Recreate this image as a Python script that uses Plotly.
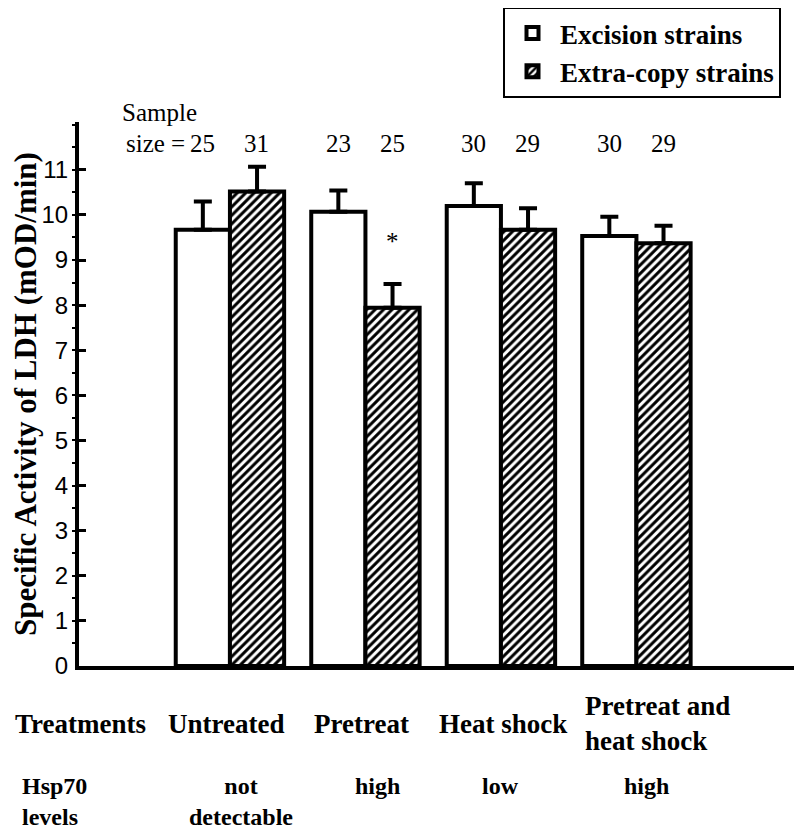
import plotly.graph_objects as go

categories = ["Untreated", "Pretreat", "Heat shock", "Pretreat and heat shock"]
excision = [9.67, 10.07, 10.20, 9.53]
excision_err = [0.63, 0.47, 0.50, 0.43]
extra = [10.52, 7.94, 9.67, 9.37]
extra_err = [0.55, 0.53, 0.48, 0.39]
n_excision = [25, 23, 30, 30]
n_extra = [31, 25, 29, 29]
hsp70 = ["not<br>detectable", "high", "low", "high"]
yticks = list(range(0, 12))

SERIF = "Liberation Serif"
SANS = "Liberation Sans"

fig = go.Figure()
fig.add_trace(go.Bar(
    name="Excision strains", x=categories, y=excision,
    marker=dict(color="white", line=dict(color="black", width=4)),
    error_y=dict(type="data", array=excision_err, arrayminus=[0]*4, symmetric=False,
                 color="black", thickness=4, width=9),
))
fig.add_trace(go.Bar(
    name="Extra-copy strains", x=categories, y=extra,
    marker=dict(color="white", line=dict(color="black", width=4),
                pattern=dict(shape="/", fgcolor="black", bgcolor="white", size=6,
                             solidity=0.5, fgopacity=1)),
    error_y=dict(type="data", array=extra_err, arrayminus=[0]*4, symmetric=False,
                 color="black", thickness=4, width=9),
))

# paper coords: plot spans 723 px wide (left edge at page x=79) and 544 px tall (bottom at page y=666)
def px(x):
    return (x - 79) / 723

def py(y):
    return (666 - y) / 544

reg = dict(family=SERIF, size=25, color="black")
ann = []
for i, c in enumerate(categories):
    ann.append(dict(x=c, xshift=-27, y=py(143), yref="paper", yanchor="middle",
                    text=str(n_excision[i]), showarrow=False, font=reg))
    ann.append(dict(x=c, xshift=27, y=py(143), yref="paper", yanchor="middle",
                    text=str(n_extra[i]), showarrow=False, font=reg))
ann.append(dict(x=px(120), xref="paper", xanchor="left", y=py(113), yref="paper",
                yanchor="middle", text="Sample", showarrow=False, font=reg))
ann.append(dict(x=px(187), xref="paper", xanchor="right", y=py(143), yref="paper",
                yanchor="middle", text="size =", showarrow=False, font=reg))
ann.append(dict(x=categories[1], xshift=27, y=9.4, text="*", showarrow=False, font=reg))

bold = dict(family=SERIF, size=27, color="black", weight="bold")
bold2 = dict(family=SERIF, size=24, color="black", weight="bold")
ann.append(dict(x=px(13), xref="paper", xanchor="left", y=py(724), yref="paper",
                yanchor="middle", text="Treatments", showarrow=False, font=bold))
ann.append(dict(x=categories[0], xshift=-4, y=py(724), yref="paper", yanchor="middle",
                text="Untreated", showarrow=False, font=bold))
ann.append(dict(x=categories[1], xshift=-4, y=py(724), yref="paper", yanchor="middle",
                text="Pretreat", showarrow=False, font=bold))
ann.append(dict(x=categories[2], xshift=2, y=py(724), yref="paper", yanchor="middle",
                text="Heat shock", showarrow=False, font=bold))
ann.append(dict(x=px(583), xref="paper", xanchor="left", y=py(723), yref="paper",
                yanchor="middle", text="Pretreat and<br>heat shock", align="left",
                showarrow=False, font=bold))
ann.append(dict(x=px(20), xref="paper", xanchor="left", y=py(801), yref="paper",
                yanchor="middle", text="Hsp70<br>levels", align="left",
                showarrow=False, font=bold2))
ann.append(dict(x=categories[0], xshift=11, y=py(801), yref="paper", yanchor="middle",
                text=hsp70[0], align="center", showarrow=False, font=bold2))
ann.append(dict(x=categories[1], xshift=12, y=py(786), yref="paper", yanchor="middle",
                text=hsp70[1], showarrow=False, font=bold2))
ann.append(dict(x=categories[2], xshift=0, y=py(786), yref="paper", yanchor="middle",
                text=hsp70[2], showarrow=False, font=bold2))
ann.append(dict(x=categories[3], xshift=10, y=py(786), yref="paper", yanchor="middle",
                text=hsp70[3], showarrow=False, font=bold2))

fig.update_layout(
    width=794, height=825,
    margin=dict(l=71, r=0, t=114, b=167, autoexpand=False),
    paper_bgcolor="white", plot_bgcolor="white",
    barmode="group", bargap=0.2, bargroupgap=0,
    annotations=ann,
    legend=dict(x=px(503), y=py(7), xanchor="left", yanchor="top",
                bordercolor="black", borderwidth=2, bgcolor="white",
                font=dict(family=SERIF, size=27, color="black", weight="bold"),
                tracegroupgap=0, itemwidth=45),
    xaxis=dict(range=[-1.114, 4.222], showticklabels=False, ticks="",
               showline=True, linecolor="black", linewidth=4, showgrid=False, zeroline=False),
    yaxis=dict(range=[0, 12.06], tickvals=yticks, ticks="inside", ticklen=7, tickwidth=3,
               tickcolor="black", showline=True, linecolor="black", linewidth=4,
               showgrid=False, zeroline=False, ticklabelstandoff=2, automargin=False,
               tickfont=dict(family=SANS, size=24, color="black"),
               minor=dict(dtick=0.5, ticks="outside", ticklen=3, tickwidth=2, tickcolor="black"),
               title=dict(text="Specific Activity of LDH (mOD/min)", standoff=2,
                          font=dict(family=SERIF, size=31, color="black", weight="bold"))),
)

fig.write_html("out.html")
